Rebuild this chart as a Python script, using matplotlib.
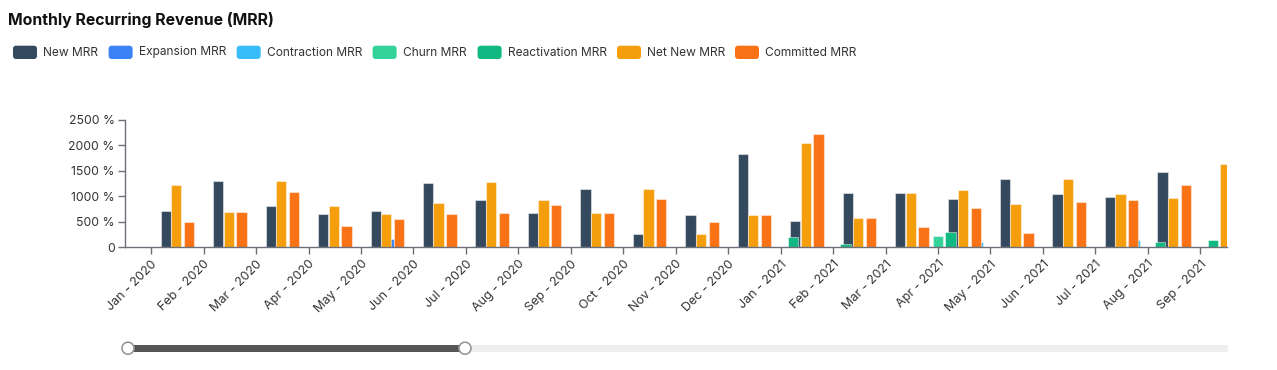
import matplotlib
matplotlib.use("Agg")
import matplotlib.pyplot as plt
from matplotlib.patches import FancyBboxPatch, Rectangle, Circle
import numpy as np

plt.rcParams['font.family'] = ['Inter', 'DejaVu Sans']

months = ["Jan - 2020", "Feb - 2020", "Mar - 2020", "Apr - 2020", "May - 2020",
          "Jun - 2020", "Jul - 2020", "Aug - 2020", "Sep - 2020", "Oct - 2020",
          "Nov - 2020", "Dec - 2020", "Jan - 2021", "Feb - 2021", "Mar - 2021",
          "Apr - 2021", "May - 2021", "Jun - 2021", "Jul - 2021", "Aug - 2021",
          "Sep - 2021"]

new_mrr = [700, 1290, 800, 645, 700, 1265, 925, 665, 1150, 255, 625, 1830,
           505, 1070, 1055, 940, 1345, 1045, 990, 1475, 0]
expansion_mrr = [0, 0, 0, 0, 150, 0, 0, 0, 0, 0, 0, 0,
                 0, 0, 0, 0, 0, 0, 0, 0, 0]
contraction_mrr = [0, 0, 0, 0, 0, 0, 0, 0, 0, 0, 0, 0,
                   0, 0, 0, 92, 0, 0, 138, 0, 0]
churn_mrr = [0, 0, 0, 0, 0, 0, 0, 0, 0, 0, 0, 0,
             0, 0, 0, 223, 0, 0, 0, 0, 0]
reactivation_mrr = [0, 0, 0, 0, 0, 0, 0, 0, 0, 0, 0, 0,
                    197, 59, 0, 289, 0, 0, 0, 105, 138]
net_new_mrr = [1215, 690, 1290, 800, 645, 860, 1275, 925, 665, 1150, 255, 625,
               2040, 575, 1070, 1120, 840, 1345, 1045, 970, 1625]
committed_mrr = [500, 690, 1085, 405, 550, 645, 665, 820, 670, 940, 490, 625,
                 2225, 570, 385, 760, 270, 880, 925, 1220, 0]

series_names = ["New MRR", "Expansion MRR", "Contraction MRR", "Churn MRR",
                "Reactivation MRR", "Net New MRR", "Committed MRR"]
series_values = [new_mrr, expansion_mrr, contraction_mrr, churn_mrr,
                 reactivation_mrr, net_new_mrr, committed_mrr]
colors = ["#34495e", "#3b82f6", "#38bdf8", "#34d399", "#10b981", "#f59e0b", "#f97316"]
# horizontal offsets of each series relative to the month tick (band units)
offsets = [0.181, 0.423, 0.662, -0.103, 0.139, 0.381, 0.625]
bar_w = 0.196

W, H = 1277, 370
fig = plt.figure(figsize=(W / 100, H / 100), dpi=100)
fig.patch.set_facecolor("white")

ax = fig.add_axes([125 / W, 123 / H, (1226.5 - 125) / W, 127 / H])
x = np.arange(len(months))
for vals, col, off in zip(series_values, colors, offsets):
    ax.bar(x + off, vals, width=bar_w, align="edge", color=col,
           edgecolor=(1, 1, 1, 0.45), linewidth=0.8)

ax.set_xlim(-0.5, len(months) - 0.5)
ax.set_ylim(0, 2500)
ax.set_xticks(x)
ax.set_xticklabels(months, rotation=45, ha="right", rotation_mode="anchor",
                   fontsize=9, color="#333333")
yt = [0, 500, 1000, 1500, 2000, 2500]
ax.set_yticks(yt)
ax.set_yticklabels(["0" if v == 0 else f"{v} %" for v in yt], fontsize=8.8, color="#333333")
for s in ["top", "right"]:
    ax.spines[s].set_visible(False)
for s in ["left", "bottom"]:
    ax.spines[s].set_color("#6e7079")
    ax.spines[s].set_linewidth(1)
ax.tick_params(axis="both", color="#6e7079", length=5, width=1)
ax.tick_params(axis="x", pad=3)
ax.tick_params(axis="y", pad=2.5)

# overlay axes in pixel coordinates for title, legend, slider
ov = fig.add_axes([0, 0, 1, 1], facecolor="none")
ov.set_xlim(0, W)
ov.set_ylim(H, 0)
ov.axis("off")

ov.text(8, 20, "Monthly Recurring Revenue (MRR)", fontsize=11.4, fontweight="bold",
        color="#111111", va="center", ha="left")

sw_x = [13, 108.6, 236.7, 372.6, 477.6, 617, 735]
for sx, name, col in zip(sw_x, series_names, colors):
    ov.add_patch(FancyBboxPatch((sx, 45.7), 24, 13.3,
                                boxstyle="round,pad=0,rounding_size=3",
                                facecolor=col, edgecolor="none"))
    ov.text(sx + 30, 52.5, name, fontsize=8.6, color="#333333", va="center", ha="left")

# slider
ov.add_patch(Rectangle((128, 344.5), 1100, 7.5, facecolor="#eeeeee", edgecolor="none"))
ov.add_patch(Rectangle((128, 344.5), 337, 7.5, facecolor="#555555", edgecolor="none"))
for hx in (128, 465):
    ov.add_patch(Circle((hx, 348.2), 6, facecolor="white", edgecolor="#999999", linewidth=1.2))

fig.savefig("out.png", dpi=100)
